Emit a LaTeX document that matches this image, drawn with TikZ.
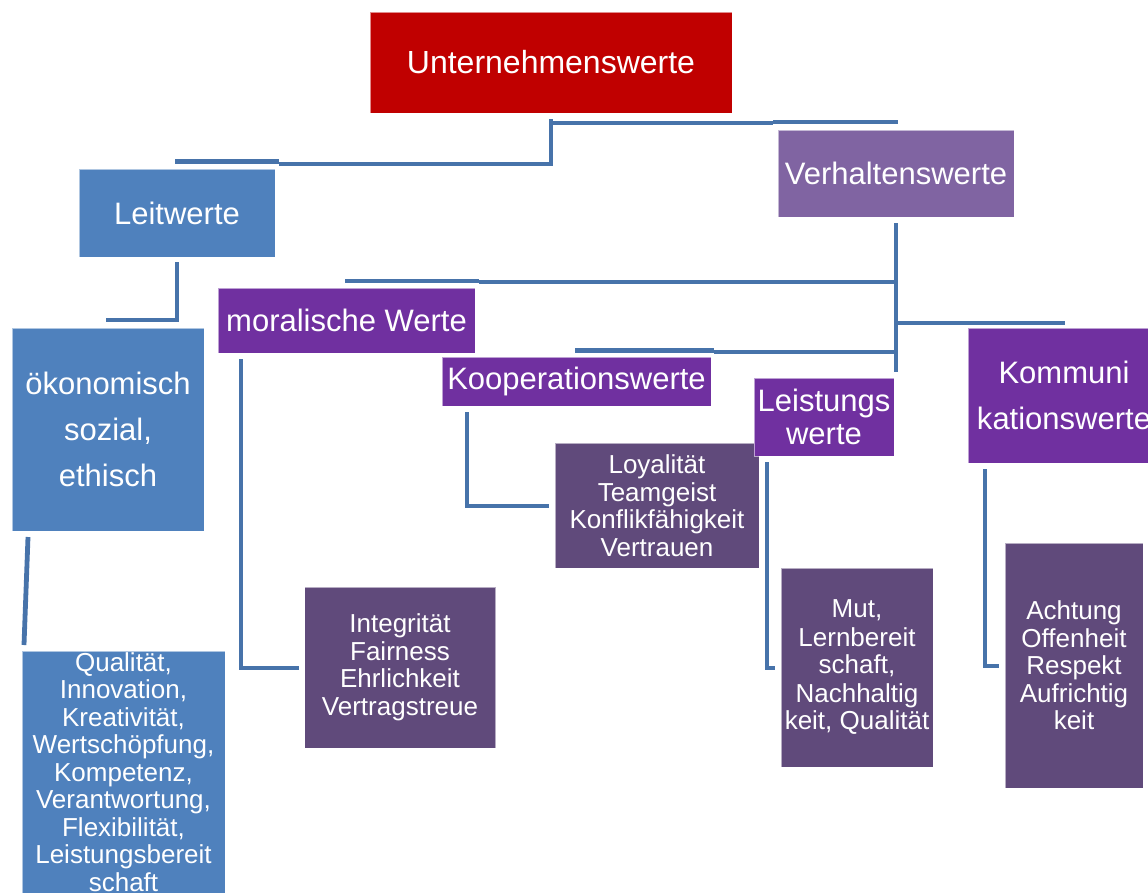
\documentclass[tikz,border=0pt]{standalone}
\usepackage{fontspec}
\setmainfont{Liberation Sans}
\definecolor{cred}{HTML}{C00000}
\definecolor{cblue}{HTML}{4F81BD}
\definecolor{clav}{HTML}{8064A2}
\definecolor{cpur}{HTML}{7030A0}
\definecolor{cdpur}{HTML}{604A7B}
\definecolor{cline}{HTML}{4773AA}
\begin{document}
\begin{tikzpicture}[x=1pt,y=-1pt,
  box/.style={draw=white, draw opacity=0.55, line width=0.8pt, text=white,
    inner sep=0pt, align=center, font=\fontsize{31}{46}\selectfont},
  body/.style={font=\fontsize{26}{27.5}\selectfont},
  conn/.style={draw=cline, line width=4.8pt, line join=miter}]
\useasboundingbox (0,0) rectangle (1148,892);
\clip (0,0) rectangle (1148,892);
% boxes
\node[box, fill=cred, minimum width=362pt, minimum height=101pt, font=\fontsize{32}{38}\selectfont] (uw) at (551,62.5) {Unternehmenswerte};
\node[box, fill=cblue, minimum width=196pt, minimum height=88pt] (lw) at (177,213) {Leitwerte};
\node[box, fill=clav, minimum width=236pt, minimum height=87pt] (vw) at (896,173.5) {Verhaltenswerte};
\node[box, fill=cblue, minimum width=192pt, minimum height=203pt] (ok) at (108,429.5) {ökonomisch\\sozial,\\ethisch};
\node[box, body, fill=cblue, minimum width=203pt, minimum height=242pt] (qu) at (123.5,772) {Qualität,\\Innovation,\\Kreativität,\\Wertschöpfung,\\Kompetenz,\\Verantwortung,\\Flexibilität,\\Leistungsbereit\\schaft};
\node[box, fill=cpur, minimum width=257pt, minimum height=65pt] (mw) at (346.5,320.5) {moralische Werte};
\node[box, fill=cpur, minimum width=269pt, minimum height=49pt] (kw) at (576.5,381.5) {Kooperationswerte};
\node[box, body, fill=cdpur, minimum width=204pt, minimum height=125pt] (lo) at (657,505.5) {Loyalität\\Teamgeist\\Konflikfähigkeit\\Vertrauen};
\node[box, fill=cpur, minimum width=140pt, minimum height=78pt, font=\fontsize{31}{33}\selectfont] (ls) at (824,417) {Leistungs\\werte};
\node[box, fill=cpur, minimum width=192pt, minimum height=135pt] (ko) at (1064,395.5) {Kommuni\\kationswerte};
\node[box, body, fill=cdpur, minimum width=191pt, minimum height=161pt] (in) at (400,667.5) {Integrität\\Fairness\\Ehrlichkeit\\Vertragstreue};
\node[box, fill=cdpur, minimum width=152pt, minimum height=199pt, font=\fontsize{26}{28}\selectfont] (mu) at (857,667.5) {Mut,\\Lernbereit\\schaft,\\Nachhaltig\\keit, Qualität};
\node[box, body, fill=cdpur, minimum width=138pt, minimum height=245pt] (ac) at (1074,665.5) {Achtung\\Offenheit\\Respekt\\Aufrichtig\\keit};
% connectors
\coordinate (t1) at (551,119);
\draw[conn] (175,161.5) -- (279,161.5);
\draw[conn] (279,164) -- (551,164) -- (t1);
\draw[conn] (549,123) -- (773,123);
\draw[conn] (773,122) -- (898,122);
\draw[conn] (177,262) -- (177,320) -- (106,320);
\draw[conn] (28,537) -- (24,645);
\draw[conn] (896,223) -- (896,372);
\draw[conn] (896,282) -- (479,282);
\draw[conn] (479,281) -- (345,281);
\draw[conn] (894,323) -- (1065,323);
\draw[conn] (896,352) -- (714,352);
\draw[conn] (714,350.5) -- (575,350.5);
\draw[conn] (241,359) -- (241,668) -- (299,668);
\draw[conn] (467,412) -- (467,506) -- (549,506);
\draw[conn] (767,462) -- (767,668) -- (775,668);
\draw[conn] (985,469) -- (985,666) -- (999,666);
\end{tikzpicture}
\end{document}
